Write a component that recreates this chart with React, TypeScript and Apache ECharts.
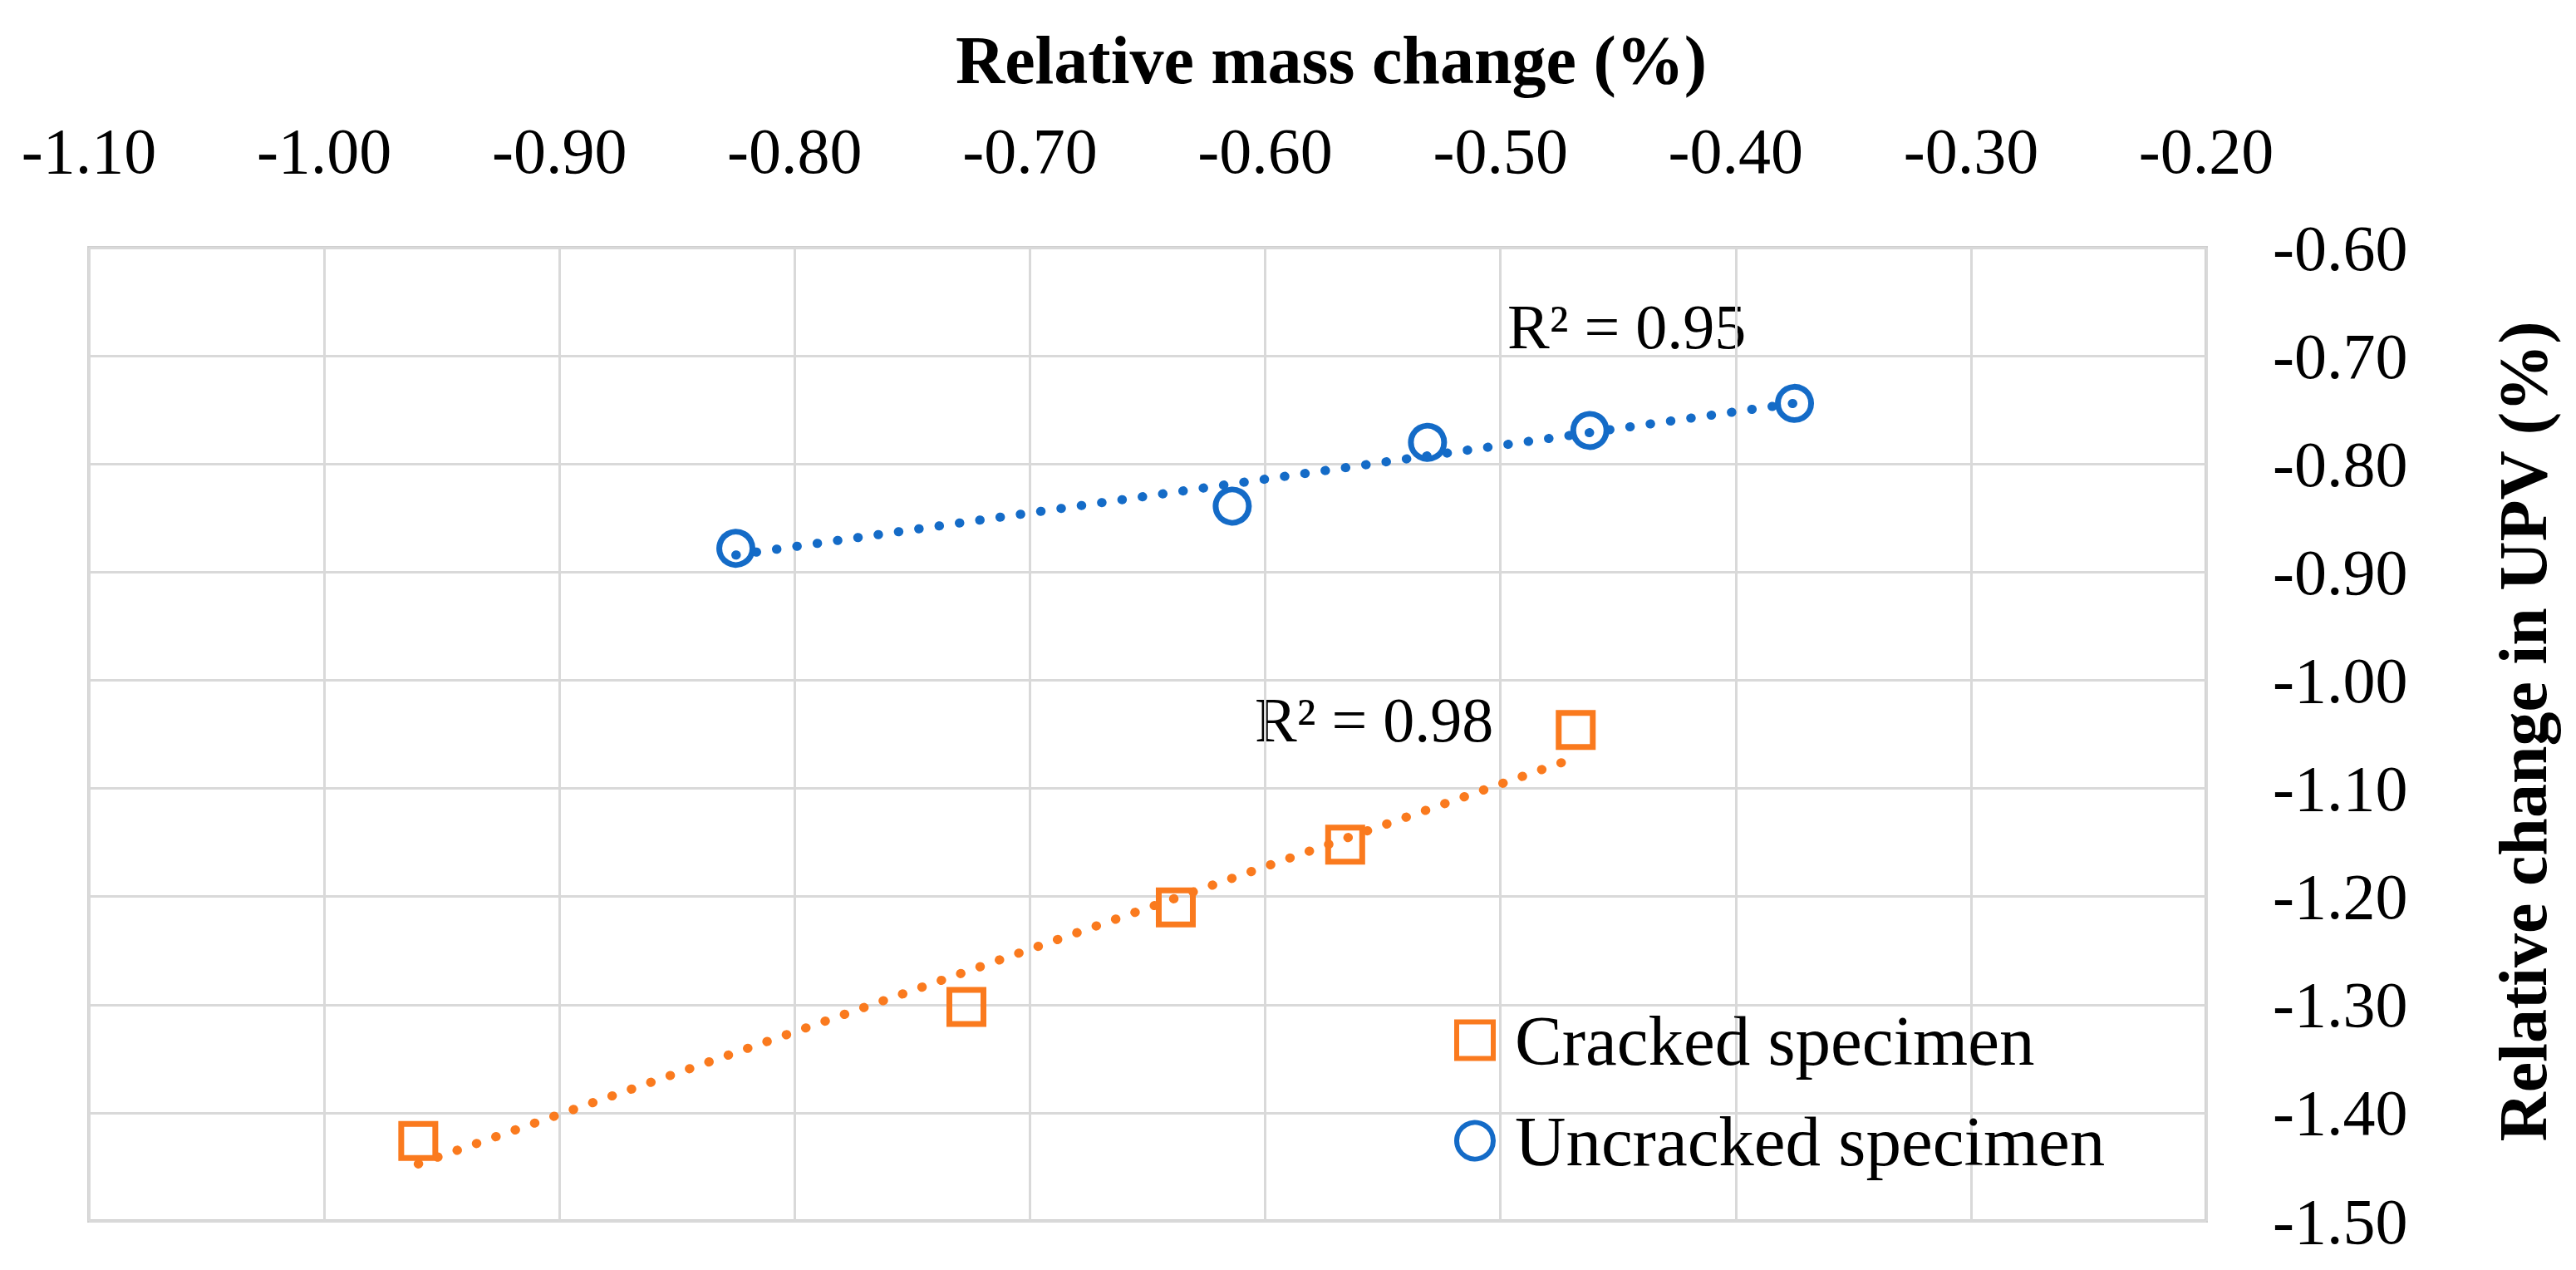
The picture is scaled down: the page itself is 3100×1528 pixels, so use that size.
import React, { useEffect, useRef } from "react";
import * as echarts from "echarts";

// ---- data ----
const crackedX = [-0.96, -0.727, -0.638, -0.566, -0.468];
const crackedY = [-1.426, -1.302, -1.21, -1.152, -1.046];
const uncrackedX = [-0.825, -0.614, -0.531, -0.462, -0.375];
const uncrackedY = [-0.878, -0.839, -0.78, -0.769, -0.744];
const seriesNames = ["Cracked specimen", "Uncracked specimen"];
const r2Labels = ["R² = 0.98", "R² = 0.95"];
const xTitle = "Relative mass change (%)";
const yTitle = "Relative change in UPV (%)";
const xRange = [-1.1, -0.2];
const yRange = [-1.5, -0.6];
const tickStep = 0.1;

const ORANGE = "#FA7A1E";
const BLUE = "#146BC7";
const FONT = "'Liberation Serif', 'Times New Roman', serif";

function trend(xs: number[], ys: number[]): number[][] {
  const n = xs.length;
  const mx = xs.reduce((a, b) => a + b, 0) / n;
  const my = ys.reduce((a, b) => a + b, 0) / n;
  let sxy = 0;
  let sxx = 0;
  for (let i = 0; i < n; i++) {
    sxy += (xs[i] - mx) * (ys[i] - my);
    sxx += (xs[i] - mx) * (xs[i] - mx);
  }
  const b = sxy / sxx;
  const a = my - b * mx;
  const lo = Math.min(...xs);
  const hi = Math.max(...xs);
  return [
    [lo, a + b * lo],
    [hi, a + b * hi],
  ];
}

export default function App() {
  const ref = useRef<HTMLDivElement>(null);

  useEffect(() => {
    if (!ref.current) return;
    const chart = echarts.init(ref.current, null, { renderer: "svg" });
    const pts = (xs: number[], ys: number[]) => xs.map((x, i) => [x, ys[i]]);

    chart.setOption({
      animation: false,
      backgroundColor: "#ffffff",
      grid: {
        left: 107,
        top: 298,
        width: 2548,
        height: 1171,
        show: true,
        borderColor: "#CFCFCF",
        borderWidth: 4,
        backgroundColor: "transparent",
      },
      xAxis: {
        type: "value",
        position: "top",
        min: xRange[0],
        max: xRange[1],
        interval: tickStep,
        axisLine: { show: false },
        axisTick: { show: false },
        splitLine: { show: true, lineStyle: { color: "#D9D9D9", width: 3 } },
        axisLabel: {
          margin: 78,
          fontFamily: FONT,
          fontSize: 78,
          color: "#000",
          formatter: (v: number) => v.toFixed(2),
        },
      },
      yAxis: {
        type: "value",
        position: "right",
        min: yRange[0],
        max: yRange[1],
        interval: tickStep,
        axisLine: { show: false },
        axisTick: { show: false },
        splitLine: { show: true, lineStyle: { color: "#D9D9D9", width: 3 } },
        axisLabel: {
          margin: 80,
          fontFamily: FONT,
          fontSize: 78,
          color: "#000",
          formatter: (v: number) => v.toFixed(2),
        },
      },
      legend: {
        orient: "vertical",
        left: 1745,
        top: 1204,
        itemWidth: 44,
        itemHeight: 44,
        itemGap: 36,
        data: [
          { name: seriesNames[0], icon: "rect" },
          { name: seriesNames[1], icon: "circle" },
        ],
        itemStyle: { borderWidth: 6, opacity: 1 },
        textStyle: {
          fontFamily: FONT,
          fontSize: 85,
          lineHeight: 85,
          color: "#000",
          padding: [0, 0, 0, 21],
        },
      },
      series: [
        {
          name: seriesNames[0],
          type: "scatter",
          symbol: "rect",
          symbolSize: 41,
          z: 2,
          itemStyle: { color: "transparent", borderColor: ORANGE, borderWidth: 7, opacity: 1 },
          data: pts(crackedX, crackedY),
        },
        {
          name: seriesNames[1],
          type: "scatter",
          symbol: "circle",
          symbolSize: 40,
          z: 2,
          itemStyle: { color: "transparent", borderColor: BLUE, borderWidth: 7, opacity: 1 },
          data: pts(uncrackedX, uncrackedY),
        },
        {
          name: "crackedTrend",
          type: "line",
          showSymbol: false,
          symbol: "none",
          z: 3,
          lineStyle: { color: ORANGE, width: 11, type: [0.5, 24.2], cap: "round", opacity: 1 },
          data: trend(crackedX, crackedY),
        },
        {
          name: "uncrackedTrend",
          type: "line",
          showSymbol: false,
          symbol: "none",
          z: 3,
          lineStyle: { color: BLUE, width: 11, type: [0.5, 24.2], cap: "round", opacity: 1 },
          data: trend(uncrackedX, uncrackedY),
        },
      ],
      graphic: [
        {
          type: "text",
          x: 1602,
          y: 72,
          style: {
            text: xTitle,
            font: `bold 82px ${FONT}`,
            fill: "#000",
            textAlign: "center",
            textVerticalAlign: "middle",
          },
        },
        {
          type: "text",
          x: 3036,
          y: 880,
          rotation: Math.PI / 2,
          style: {
            text: yTitle,
            font: `bold 82px ${FONT}`,
            fill: "#000",
            textAlign: "center",
            textVerticalAlign: "middle",
          },
        },
        {
          type: "text",
          x: 1510,
          y: 866,
          style: {
            text: r2Labels[0],
            font: `76px ${FONT}`,
            fill: "#000",
            textAlign: "left",
            textVerticalAlign: "middle",
          },
        },
        {
          type: "text",
          x: 1814,
          y: 393,
          style: {
            text: r2Labels[1],
            font: `76px ${FONT}`,
            fill: "#000",
            textAlign: "left",
            textVerticalAlign: "middle",
          },
        },
      ],
    });

    return () => chart.dispose();
  }, []);

  return (
    <div
      ref={ref}
      style={{ position: "fixed", left: 0, top: 0, width: 3100, height: 1528, background: "#fff" }}
    />
  );
}
